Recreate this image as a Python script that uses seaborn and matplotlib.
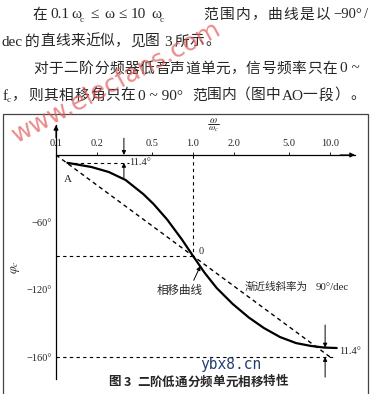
import matplotlib
matplotlib.use('Agg')
import matplotlib.pyplot as plt
from matplotlib.patches import Rectangle
from matplotlib.lines import Line2D
from matplotlib.ticker import NullLocator
import seaborn as sns
import pandas as pd

# ---------------- data ----------------
freq_ratio = [0.121, 0.181, 0.243, 0.322, 0.433, 0.515, 0.647, 0.825, 1.0,
              1.210, 1.487, 1.949, 2.552, 3.290, 4.310, 5.646, 7.280,
              9.09, 11.18]
phase_deg = [-7, -10.7, -15.2, -22.3, -34.8, -43.7, -57.5, -74.9, -90,
             -104.7, -118.5, -132.8, -144.8, -154.2, -162.2, -167.6,
             -170.2, -171.6, -172.0]
asym_x = [0.1, 1.0, 10.0]
asym_y = [0, -90, -180]

x_ticks = [0.1, 0.2, 0.5, 1.0, 2.0, 5.0, 10.0]
x_tick_labels = ['0.1', '0.2', '0.5', '1.0', '2.0', '5.0', '10.0']
y_ticks = [-60, -120, -180]
y_tick_labels = ['\u221260\u00b0', '\u2212120\u00b0', '\u2212160\u00b0']

corner = 1.0
mid_phase = -90
low_phase = -180
start_phase = -7
start_x = 0.121
start_line_end = 0.34
low_line_end = 10.6
mark_left_x = 0.313
mark_right_x = 9.2
end_phase = -171.6

# ---------------- style ----------------
sns.set_style('white')
SER = 'Liberation Serif'
CJK = 'Noto Sans CJK SC'
plt.rcParams['font.family'] = [SER, CJK, 'DejaVu Sans']
plt.rcParams['mathtext.fontset'] = 'stix'

W, H = 378, 394
fig = plt.figure(figsize=(W / 100, H / 100), dpi=100)
fig.patch.set_facecolor('white')


def fx(x):
    return x / W


def fy(y):
    return 1 - y / H


def put(x, base, s, family=SER, size=11, **kw):
    fig.text(fx(x), fy(base), s, family=family, fontsize=size,
             ha='left', va='baseline', **kw)


def spread(x0, x1, base, s, family=CJK, size=10.6, **kw):
    step = (x1 - x0) / len(s)
    for i, ch in enumerate(s):
        fig.text(fx(x0 + step * (i + 0.5)), fy(base), ch, family=family,
                 fontsize=size, ha='center', va='baseline', **kw)


# ---------------- paragraph text ----------------
b1, b2, b3, b4 = 18.5, 45.5, 72.5, 99.5
spread(32, 47, b1, '在')
put(50, b1, '0.1')
put(71, b1, '\u03c9')
put(80, b1 + 3, 'c', size=6.5)
put(90, b1, '\u2264')
put(104, b1, '\u03c9')
put(118, b1, '\u2264')
put(131, b1, '10')
put(151, b1, '\u03c9')
put(160, b1 + 3, 'c', size=6.5)
spread(203, 331, b1, '范围内，曲线是以')
put(333, b1, '\u221290\u00b0', size=10.5)
put(364, b1, '/', size=10.5)

put(2, b2, 'dec')
spread(25, 160, b2, '的直线来近似，见图')
put(164, b2, '3')
spread(174, 220, b2, '所示。')

spread(33, 337, b3, '对于二阶分频器低音声道单元，信号频率只在')
put(340, b3, '0 ~')

put(3, b4, 'f')
put(7, b4 + 3, 'c', size=6.5)
spread(12, 136, b4, '，则其相移角只在')
put(138, b4, '0 ~ 90\u00b0')
spread(192, 280, b4, '范围内（图中')
put(282, b4, 'AO')
spread(302, 366, b4, '一段）。')

# frame
fig.patches.append(Rectangle((fx(3), fy(400)), (368 - 3) / W, (400 - 114) / H,
                             transform=fig.transFigure, fill=False,
                             lw=0.9, ec='#444444'))

# ---------------- chart ----------------
ax = fig.add_axes([fx(56), fy(379), (355 - 56) / W, (379 - 125) / H])
ax.set_facecolor('none')
ax.set_xscale('log')
ax.set_xlim(0.1, 15.2)
ax.set_ylim(-199.6, 26.7)

df = pd.DataFrame({'w': freq_ratio, 'phi': phase_deg})
sns.lineplot(data=df, x='w', y='phi', ax=ax, color='black', lw=1.6,
             sort=False, estimator=None, solid_joinstyle='round',
             solid_capstyle='round')
sns.lineplot(x=asym_x, y=asym_y, ax=ax, color='black', lw=1.0,
             sort=False, estimator=None, linestyle=(0, (3, 2.5)))

dash = dict(color='black', lw=0.8, linestyle=(0, (3, 3)))
ax.plot([corner, corner], [0, mid_phase], **dash)
ax.plot([0.1, corner], [mid_phase, mid_phase], **dash)
ax.plot([0.1, low_line_end], [low_phase, low_phase], **dash)
ax.plot([start_x, start_line_end], [start_phase, start_phase], **dash)

for s in ['right', 'bottom']:
    ax.spines[s].set_visible(False)
ax.spines['top'].set_position(('data', 0))
ax.spines['top'].set_linewidth(0.9)
ax.spines['left'].set_linewidth(0.9)
for s in ['top', 'left']:
    ax.spines[s].set_color('black')
ax.xaxis.tick_top()
ax.set_xticks(x_ticks)
ax.set_xticklabels(x_tick_labels)
ax.xaxis.set_minor_locator(NullLocator())
ax.set_yticks(y_ticks)
ax.set_yticklabels(y_tick_labels)
ax.tick_params(axis='x', direction='out', length=2.5, width=0.7, pad=2.5,
               labelsize=7.5)
ax.tick_params(axis='y', direction='in', length=2.5, width=0.7, pad=3,
               labelsize=7.5)
ax.set_xlabel('')
ax.set_ylabel('')

arr = dict(arrowstyle='-|>', color='black', lw=0.8, mutation_scale=7,
           shrinkA=0, shrinkB=0)
ax.annotate('', xy=(1.0, 0), xycoords=('axes fraction', 'data'),
            xytext=(0.95, 0), textcoords=('axes fraction', 'data'),
            arrowprops=arr, annotation_clip=False)
ax.annotate('', xy=(0, 1.0), xycoords='axes fraction',
            xytext=(0, 0.95), textcoords='axes fraction',
            arrowprops=arr, annotation_clip=False)

small = dict(arrowstyle='-|>', color='black', lw=0.7, mutation_scale=6,
             shrinkA=0, shrinkB=0)
ax.annotate('', xy=(mark_left_x, 0), xytext=(mark_left_x, 15),
            arrowprops=small, annotation_clip=False)
ax.annotate('', xy=(mark_left_x, start_phase), xytext=(mark_left_x, -20.5),
            arrowprops=small, annotation_clip=False)
ax.annotate('', xy=(mark_right_x, end_phase), xytext=(mark_right_x, -151.5),
            arrowprops=small, annotation_clip=False)
ax.annotate('', xy=(mark_right_x, low_phase), xytext=(mark_right_x, -198),
            arrowprops=small, annotation_clip=False)

ax.annotate('11.4\u00b0', xy=(mark_left_x, start_phase), xytext=(5, 0),
            textcoords='offset pixels', ha='left', va='center', fontsize=7.5)
ax.annotate('11.4\u00b0', xy=(mark_right_x, -175.5), xytext=(14, 0),
            textcoords='offset pixels', ha='left', va='center', fontsize=7.5,
            annotation_clip=False)
ax.annotate('A', xy=(start_x, start_phase), xytext=(1, -17),
            textcoords='offset pixels', ha='center', va='center', fontsize=8)
ax.annotate('0', xy=(corner, mid_phase), xytext=(8, 4),
            textcoords='offset pixels', ha='center', va='center', fontsize=7.5)
ax.annotate('相移曲线', xy=(1.13, -99), xytext=(-21, -24),
            textcoords='offset pixels', ha='center', va='center',
            fontsize=8.3, family=CJK,
            arrowprops=dict(arrowstyle='-|>', color='black', lw=0.7,
                            mutation_scale=6, shrinkA=0, shrinkB=0,
                            relpos=(0.78, 1.0)))

fig.text(fx(245), fy(287), '渐近线斜率为', family=CJK, fontsize=7.6,
         ha='left', va='center')
fig.text(fx(316), fy(287), '90\u00b0/dec', family=SER, fontsize=7.8,
         ha='left', va='center')

# omega / omega_c axis label as a stacked fraction
fig.text(fx(213), fy(120.5), r'$\omega$', fontsize=7.5, ha='center',
         va='center')
fig.add_artist(Line2D([fx(208), fx(218.5)], [fy(124.3), fy(124.3)],
                      transform=fig.transFigure, color='black', lw=0.6))
fig.text(fx(213.5), fy(129), r'$\omega_c$', fontsize=6.5, ha='center',
         va='center')
fig.text(fx(15), fy(267), r'$\varphi_c$', fontsize=9, rotation=90,
         ha='center', va='center')

# caption
spread(108, 121, 385.5, '图', size=9, fontweight='bold')
put(124, 385.5, '3', family=CJK, size=9, fontweight='bold')
spread(137, 288, 385.5, '二阶低通分频单元相移特性', size=9, fontweight='bold')

# watermarks
fig.text(fx(231), fy(364), 'ybx8.cn', family='DejaVu Sans Mono', fontsize=10.5,
         color='#233f6e', ha='center', va='center')
fig.text(fx(117), fy(82), 'www.elecfans.com', family='DejaVu Sans',
         fontsize=18, color='#e05a5a', alpha=0.7, rotation=28,
         ha='center', va='center', rotation_mode='anchor', zorder=10)

fig.savefig('out.png', dpi=100)
